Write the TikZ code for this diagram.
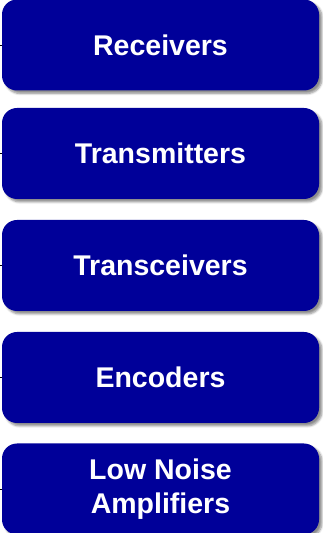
\documentclass[tikz,border=0pt]{standalone}
\usepackage{fontspec}
\setmainfont{Liberation Sans}
\usetikzlibrary{shadows.blur}
\definecolor{boxblue}{RGB}{0,0,153}
\tikzset{
  x=1pt, y=1pt,
  itembox/.style={draw=none, fill=boxblue, rounded corners=15pt,
    minimum width=317pt, minimum height=91pt, inner sep=0pt,
    text=white, font=\bfseries\fontsize{28.5}{34}\selectfont, align=center,
    blur shadow={shadow xshift=3pt, shadow yshift=-3pt, shadow blur steps=6, shadow opacity=45}},
  stub/.style={draw=black, line width=0.8pt}
}
\begin{document}
\begin{tikzpicture}
  \useasboundingbox (0,0) rectangle (322,533);
  \node[itembox] (rx)  at (160.5,488) {Receivers};
  \node[itembox] (tx)  at (160.5,379.5) {Transmitters};
  \node[itembox] (trx) at (160.5,267.5) {Transceivers};
  \node[itembox] (enc) at (160.5,155.5) {Encoders};
  \node[itembox] (lna) at (160.5,44) {\rule{0pt}{0pt}\raisebox{-3pt}{\parbox{300pt}{\centering Low Noise\\Amplifiers}}};
  \foreach \n in {rx,tx,trx,enc,lna}{
    \coordinate (\n-in) at ([xshift=-2pt]\n.west);
    \draw[stub] (\n-in) -- (\n.west);
  }
\end{tikzpicture}
\end{document}
